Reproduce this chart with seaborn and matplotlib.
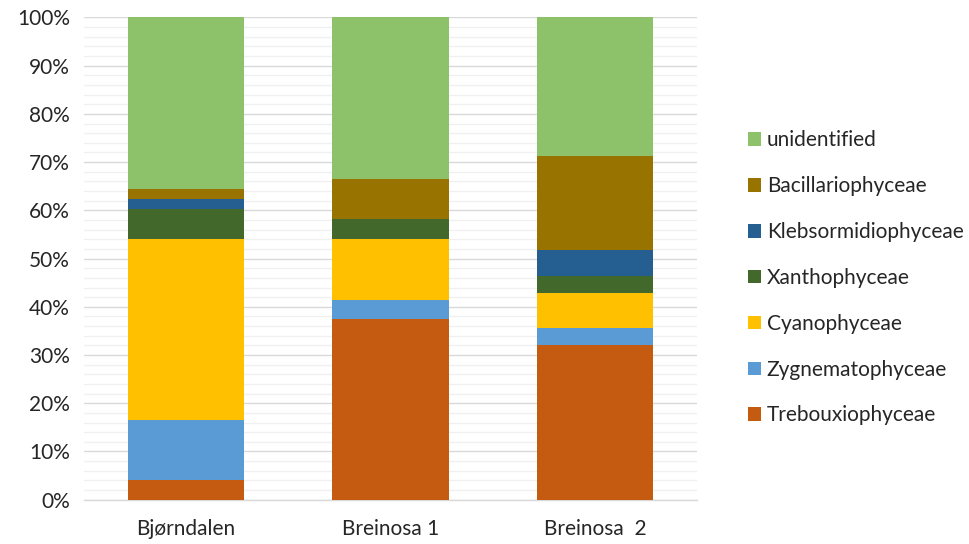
import numpy as np
import pandas as pd
import matplotlib
matplotlib.use("Agg")
import matplotlib.pyplot as plt
from matplotlib.patches import Patch
from matplotlib.ticker import MultipleLocator, FuncFormatter
import seaborn as sns

sites = ["Bjørndalen", "Breinosa 1", "Breinosa  2"]

# Relative abundance (%) per class, bottom to top of each stack
trebouxiophyceae = [4.1, 37.4, 32.1]
zygnematophyceae = [12.5, 4.1, 3.6]
cyanophyceae = [37.4, 12.5, 7.1]
xanthophyceae = [6.3, 4.2, 3.5]
klebsormidiophyceae = [2.0, 0.0, 5.4]
bacillariophyceae = [2.2, 8.3, 19.6]
unidentified = [35.5, 33.5, 28.7]

classes = ["Trebouxiophyceae", "Zygnematophyceae", "Cyanophyceae",
           "Xanthophyceae", "Klebsormidiophyceae", "Bacillariophyceae",
           "unidentified"]
values = [trebouxiophyceae, zygnematophyceae, cyanophyceae, xanthophyceae,
          klebsormidiophyceae, bacillariophyceae, unidentified]
colors = ["#C55A11", "#5B9BD5", "#FFC000", "#43682B",
          "#255E91", "#997300", "#8DC16A"]

sns.set_theme(style="white")
plt.rcParams["font.family"] = ["Lato", "DejaVu Sans"]

fig = plt.figure(figsize=(9.7, 5.44), dpi=100)
ax = fig.add_axes([0.0866, 0.0814, 0.632, 0.8866])

# Cumulative tops, drawn from the top layer down so each band overlaps the next
df = pd.DataFrame(values, index=classes, columns=sites).T
cum = df.cumsum(axis=1)
for cls, col in reversed(list(zip(classes, colors))):
    data = pd.DataFrame({"site": sites, "top": cum[cls].values})
    sns.barplot(data=data, x="site", y="top", color=col, saturation=1,
                width=0.57, linewidth=0, ax=ax, zorder=3)

ax.set_ylim(0, 100)
ax.set_xlim(-0.5, 2.5)
ax.yaxis.set_major_locator(MultipleLocator(10))
ax.yaxis.set_minor_locator(MultipleLocator(2))
ax.yaxis.set_major_formatter(FuncFormatter(lambda v, p: f"{int(v)}%"))
ax.grid(axis="y", which="major", color="#D9D9D9", linewidth=1.0, zorder=0)
ax.grid(axis="y", which="minor", color="#F0F0F0", linewidth=1.0, zorder=0)
ax.set_axisbelow(True)
ax.set_xlabel("")
ax.set_ylabel("")
for s in ["left", "right", "top"]:
    ax.spines[s].set_visible(False)
ax.spines["bottom"].set_color("#D9D9D9")
ax.spines["bottom"].set_linewidth(1.0)
ax.tick_params(axis="both", which="both", length=0, labelsize=15,
               colors="#262626")
ax.tick_params(axis="y", pad=10)
ax.tick_params(axis="x", pad=14)

handles = [Patch(facecolor=c, edgecolor="none", label=l)
           for l, c in reversed(list(zip(classes, colors)))]
fig.legend(handles=handles, loc="center left", bbox_to_anchor=(0.7515, 0.489),
           frameon=False, fontsize=15, handlelength=0.62, handleheight=0.62,
           handletextpad=0.3, labelspacing=1.24, labelcolor="#262626")

fig.savefig("out.png", dpi=100, facecolor="white")
